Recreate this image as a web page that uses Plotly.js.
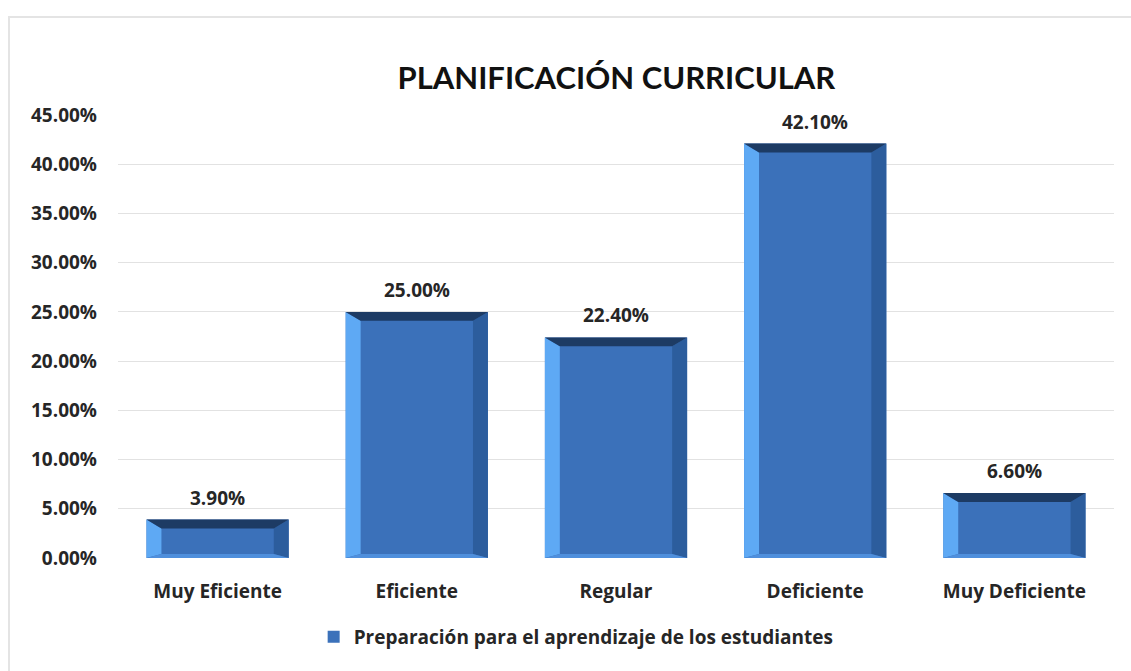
<!DOCTYPE html>
<html>
<head>
<meta charset="utf-8">
<script src="https://cdn.plot.ly/plotly-3.0.1.min.js"></script>
<style>
  html, body { margin: 0; padding: 0; background: #ffffff; }
  #frame { position: absolute; left: 8px; top: 16px; width: 1130px; height: 660px; border-left: 2px solid #e4e4e4; border-top: 2px solid #e4e4e4; }
  #chart { position: absolute; left: 0; top: 0; width: 1131px; height: 671px; }
</style>
</head>
<body>
<div id="frame"></div>
<div id="chart"></div>
<script>
const categories = ["Muy Eficiente", "Eficiente", "Regular", "Deficiente", "Muy Deficiente"];
const values = [0.039, 0.25, 0.224, 0.421, 0.066];
const labels = ["3.90%", "25.00%", "22.40%", "42.10%", "6.60%"];
const seriesName = "Preparación para el aprendizaje de los estudiantes";
const yTickVals = [0, 0.05, 0.10, 0.15, 0.20, 0.25, 0.30, 0.35, 0.40, 0.45];
const yTickText = ["0.00%", "5.00%", "10.00%", "15.00%", "20.00%", "25.00%", "30.00%", "35.00%", "40.00%", "45.00%"];

const FONT = "'Open Sans', Lato, sans-serif";
const TFONT = "Lato, 'Open Sans', sans-serif";
const TXT = "#262626";
const idx = categories.map((_, i) => i);
const halfW = 0.357;   // half of bar width in category units
const bx = 0.075;      // bevel width in category units
const byTop = 0.009;   // top bevel height in value units
const byBot = 0.004;

const shapes = [];
idx.forEach(i => {
  const v = values[i];
  const x0 = i - halfW, x1 = i + halfW;
  const t = Math.min(byTop, v * 0.3);
  shapes.push({type: "path", xref: "x", yref: "y", line: {width: 0}, fillcolor: "#5ea9f4",
    path: `M ${x0} 0 L ${x0} ${v} L ${x0 + bx} ${v - t} L ${x0 + bx} ${byBot} Z`});
  shapes.push({type: "path", xref: "x", yref: "y", line: {width: 0}, fillcolor: "#2c5d9d",
    path: `M ${x1} 0 L ${x1} ${v} L ${x1 - bx} ${v - t} L ${x1 - bx} ${byBot} Z`});
  shapes.push({type: "path", xref: "x", yref: "y", line: {width: 0}, fillcolor: "#1d3b64",
    path: `M ${x0} ${v} L ${x1} ${v} L ${x1 - bx} ${v - t} L ${x0 + bx} ${v - t} Z`});
  shapes.push({type: "path", xref: "x", yref: "y", line: {width: 0}, fillcolor: "#4f8fdc",
    path: `M ${x0} 0 L ${x1} 0 L ${x1 - bx} ${byBot} L ${x0 + bx} ${byBot} Z`});
});

const annotations = idx.map(i => ({
  x: i, y: values[i], text: labels[i], showarrow: false, xref: "x", yref: "y",
  yanchor: "bottom", yshift: 7, font: {family: FONT, size: 19, color: TXT, weight: "bold"}
}));

const trace = {
  type: "bar", x: idx, y: values, name: seriesName,
  marker: {color: "#3b71ba", line: {width: 0}},
  width: 2 * halfW, hoverinfo: "skip", showlegend: true
};

const layout = {
  width: 1131, height: 671,
  paper_bgcolor: "rgba(0,0,0,0)", plot_bgcolor: "rgba(0,0,0,0)",
  margin: {l: 118, r: 17, t: 115, b: 113},
  title: {text: "PLANIFICACIÓN CURRICULAR", x: 0.545, xanchor: "center", y: 0.884, yanchor: "middle",
          font: {family: TFONT, size: 31, color: "#111111", weight: "bold"}},
  xaxis: {range: [-0.5, 4.5], tickvals: idx, ticktext: categories, showgrid: false, zeroline: false,
          showline: false, ticks: "", ticklabelstandoff: 20,
          tickfont: {family: FONT, size: 19, color: TXT, weight: "bold"}},
  yaxis: {range: [0, 0.45], tickvals: yTickVals, ticktext: yTickText, showgrid: true, gridcolor: "#e2e2e2",
          gridwidth: 1, zeroline: false, showline: false, ticks: "", ticklabelstandoff: 20,
          tickfont: {family: FONT, size: 19, color: TXT, weight: "bold"}},
  showlegend: true,
  legend: {orientation: "h", x: 0.46, xanchor: "center", y: -0.178, yanchor: "middle",
           font: {family: FONT, size: 19, color: TXT, weight: "bold"}, itemwidth: 30},
  shapes: shapes, annotations: annotations, bargap: 0.286
};

Plotly.newPlot("chart", [trace], layout, {displayModeBar: false, staticPlot: true});
</script>
</body>
</html>
